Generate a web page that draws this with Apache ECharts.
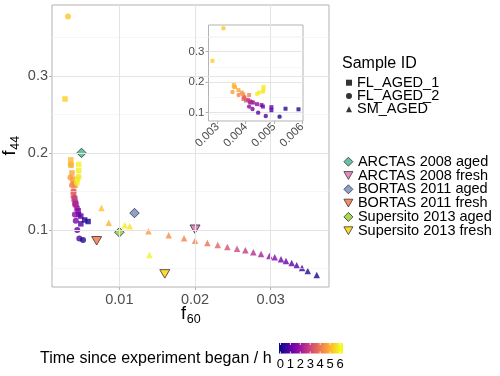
<!DOCTYPE html>
<html><head><meta charset="utf-8">
<script src="https://cdn.jsdelivr.net/npm/echarts@6/dist/echarts.min.js"></script>
<style>html,body{margin:0;padding:0;background:#fff}#c{width:500px;height:376px}</style>
</head><body><div id="c"></div>
<script>
// ---- data ----
const sampleNames = ['FL_AGED_1', 'FL_AGED_2', 'SM_AGED'];
const sqF60 = [0.00282, 0.00358, 0.00362, 0.00374, 0.00386, 0.00391, 0.00412, 0.00395, 0.00392, 0.00401, 0.00415, 0.00420, 0.00426, 0.00440, 0.00456, 0.00461, 0.00491, 0.00491, 0.00541, 0.00587, 0.00463, 0.00463];
const sqF44 = [0.270, 0.191, 0.184, 0.174, 0.166, 0.160, 0.158, 0.150, 0.145, 0.140, 0.137, 0.135, 0.133, 0.128, 0.125, 0.120, 0.118, 0.108, 0.113, 0.111, 0.185, 0.177];
const sqT   = [5.4, 5.1, 5.0, 4.8, 4.6, 4.4, 4.2, 3.9, 3.6, 3.3, 2.8, 2.4, 2.0, 1.8, 1.6, 1.3, 1.0, 0.8, 0.3, 0.1, 5.9, 5.8];
const ciF60 = [0.00321, 0.00358, 0.00353, 0.00375, 0.00395, 0.00409, 0.00415, 0.00412, 0.00424, 0.00444, 0.00471, 0.00520, 0.00440, 0.00447, 0.00461];
const ciF44 = [0.377, 0.185, 0.168, 0.158, 0.150, 0.142, 0.133, 0.120, 0.112, 0.100, 0.089, 0.087, 0.161, 0.166, 0.169];
const ciT   = [5.3, 5.0, 4.6, 4.2, 3.6, 2.8, 2.4, 1.7, 1.4, 1.1, 0.8, 0.2, 5.9, 5.8, 5.7];
const trF60 = [0.00763, 0.0086, 0.0107, 0.01137, 0.01384, 0.01397, 0.01652, 0.01855, 0.0200, 0.02163, 0.0230, 0.02427, 0.02555, 0.02665, 0.0277, 0.02872, 0.02982, 0.03053, 0.03136, 0.03202, 0.03277, 0.03343, 0.03414, 0.03489, 0.03608];
const trF44 = [0.1286, 0.1095, 0.106, 0.105, 0.0983, 0.0675, 0.0931, 0.0892, 0.0861, 0.0831, 0.0805, 0.0779, 0.0757, 0.0736, 0.071, 0.0688, 0.0662, 0.0645, 0.0619, 0.0597, 0.0571, 0.0541, 0.0506, 0.0468, 0.0416];
const trT   = [5.2, 5.0, 5.8, 5.7, 4.6, 5.9, 4.4, 4.2, 4.1, 3.9, 3.6, 3.2, 3.0, 2.7, 2.4, 2.2, 1.8, 1.6, 1.3, 1.1, 0.9, 0.7, 0.5, 0.3, 0.1];

const refNames  = ['ARCTAS 2008 aged', 'ARCTAS 2008 fresh', 'BORTAS 2011 aged', 'BORTAS 2011 fresh', 'Supersito 2013 aged', 'Supersito 2013 fresh'];
const refF60    = [0.005, 0.020, 0.012, 0.007, 0.010, 0.016];
const refF44    = [0.200, 0.101, 0.122, 0.086, 0.097, 0.043];
const refColors = ['#66c2a5', '#e78ac3', '#8da0cb', '#fc8d62', '#a6d854', '#ffd92f'];
const refShape  = ['aged', 'fresh', 'aged', 'fresh', 'aged', 'fresh'];

const dashF60 = 0.003;
const xMainTicks = [0.01, 0.02, 0.03];
const xMainMinor = [0.005, 0.015, 0.025, 0.035];
const yMainTicks = [0.1, 0.2, 0.3];
const yMainMinor = [0.05, 0.15, 0.25, 0.35];
const xInsetTicks = [0.003, 0.004, 0.005, 0.006];
const xInsetMinor = [0.0035, 0.0045, 0.0055];
const yInsetTicks = [0.1, 0.2, 0.3];
const yInsetMinor = [0.15, 0.25, 0.35];
const cbTicks = [0, 1, 2, 3, 4, 5, 6];
const timeMin = 0, timeMax = 6;

const plasma = ['#0d0887','#41049d','#6a00a8','#8f0da4','#b12a90','#cc4778','#e16462','#f2844b','#fca636','#fcce25','#f0f921'];

// ---- build ----
const FONT = 'Liberation Sans, Arial, sans-serif';
const zip = (a, b, c) => a.map((v, i) => [v, b[i], c[i]]);
const fmt = v => String(Math.round(v * 1e6) / 1e6);
const DOWN_TRI = 'path://M0,0L10,0L5,8.66Z';

function gridLines(xi, major, minor, ymajor, yminor, z) {
  const maj = {color: '#e4e4e4', width: 1, type: 'solid'};
  const mnr = {color: '#f2f2f2', width: 0.6, type: 'solid'};
  const d = [];
  minor.forEach(v => d.push({xAxis: v, lineStyle: mnr}));
  yminor.forEach(v => d.push({yAxis: v, lineStyle: mnr}));
  major.forEach(v => d.push({xAxis: v, lineStyle: maj}));
  ymajor.forEach(v => d.push({yAxis: v, lineStyle: maj}));
  d.push({xAxis: dashF60, lineStyle: {color: '#333', width: 1, type: [4, 3]}});
  return {
    type: 'line', xAxisIndex: xi, yAxisIndex: xi, data: [], z: z, silent: true,
    markLine: {silent: true, symbol: ['none', 'none'], label: {show: false}, animation: false, data: d}
  };
}

function axisX(gi, min, max, ticks, fs, rot) {
  return {
    type: 'value', gridIndex: gi, min: min, max: max, splitLine: {show: false},
    axisLine: {show: false},
    axisTick: {show: true, length: 3, lineStyle: {color: '#b3b3b3'}, customValues: ticks},
    axisLabel: {customValues: ticks, formatter: fmt, fontSize: fs, color: '#4d4d4d', margin: rot ? 4 : 5, rotate: rot || 0, fontFamily: FONT}
  };
}
function axisY(gi, min, max, ticks, fs) {
  return {
    type: 'value', gridIndex: gi, min: min, max: max, splitLine: {show: false},
    axisLine: {show: false},
    axisTick: {show: true, length: 3, lineStyle: {color: '#b3b3b3'}, customValues: ticks},
    axisLabel: {customValues: ticks, formatter: fmt, fontSize: fs, color: '#4d4d4d', margin: 4, fontFamily: FONT}
  };
}

const series = [];
series.push(gridLines(0, xMainTicks, xMainMinor, yMainTicks, yMainMinor, 1));
const sampleSym = ['rect', 'circle', 'triangle'];
const sampleData = [zip(sqF60, sqF44, sqT), zip(ciF60, ciF44, ciT), zip(trF60, trF44, trT)];
const mainSizes = [5.5, 6, 6.5];
sampleNames.forEach((n, i) => series.push({
  type: 'scatter', name: n, xAxisIndex: 0, yAxisIndex: 0, symbol: sampleSym[i], symbolSize: mainSizes[i],
  data: sampleData[i], z: 3
}));
refNames.forEach((n, i) => series.push({
  type: 'scatter', name: n, xAxisIndex: 0, yAxisIndex: 0,
  symbol: refShape[i] === 'aged' ? 'diamond' : DOWN_TRI,
  symbolSize: refShape[i] === 'aged' ? 9.5 : [10, 8.5],
  itemStyle: {color: refColors[i], borderColor: '#333', borderWidth: 0.8, opacity: 1},
  data: [[refF60[i], refF44[i]]], z: 4
}));
const insetLineIdx = series.length;
series.push(gridLines(1, xInsetTicks, xInsetMinor, yInsetTicks, yInsetMinor, 6));
const insetSizes = [4, 4.4];
[0, 1].forEach(i => series.push({
  type: 'scatter', name: sampleNames[i], xAxisIndex: 1, yAxisIndex: 1, symbol: sampleSym[i], symbolSize: insetSizes[i],
  data: sampleData[i], z: 7, clip: true
}));
const sampleIdx = [1, 2, 3, insetLineIdx + 1, insetLineIdx + 2];

// colorbar
const cbX = 279, cbY = 343, cbW = 64, cbH = 10.5, cbLo = -0.15, cbHi = 6.3;
const cbPos = t => cbX + (t - cbLo) / (cbHi - cbLo) * cbW;
const stops = [{offset: 0, color: plasma[0]}];
plasma.forEach((c, i) => {
  const t = timeMin + (timeMax - timeMin) * i / (plasma.length - 1);
  stops.push({offset: Math.min(1, Math.max(0, (t - cbLo) / (cbHi - cbLo))), color: c});
});
stops.push({offset: 1, color: plasma[plasma.length - 1]});
const graphics = [
  {type: 'text', left: 342, top: 56, style: {text: 'Sample ID', fontSize: 16, fill: '#000', fontFamily: FONT}},
  {type: 'text', x: 40, y: 359, style: {text: 'Time since experiment began / h', fontSize: 16, fill: '#000', fontFamily: FONT, verticalAlign: 'middle'}},
  {type: 'rect', shape: {x: cbX, y: cbY, width: cbW, height: cbH}, style: {fill: new echarts.graphic.LinearGradient(0, 0, 1, 0, stops)}},
  // axis titles
  {type: 'group', x: 181, y: 323.5, children: [
    {type: 'text', x: 0, y: 0, style: {text: 'f', fontSize: 18, fill: '#000', fontFamily: FONT, verticalAlign: 'bottom'}},
    {type: 'text', x: 5.8, y: 2.5, style: {text: '60', fontSize: 12.5, fill: '#000', fontFamily: FONT, verticalAlign: 'bottom'}}
  ]},
  {type: 'group', x: 19.5, y: 155.5, rotation: Math.PI / 2, children: [
    {type: 'text', x: 0, y: 0, style: {text: 'f', fontSize: 18, fill: '#000', fontFamily: FONT, verticalAlign: 'bottom'}},
    {type: 'text', x: 5.8, y: 2.5, style: {text: '44', fontSize: 12.5, fill: '#000', fontFamily: FONT, verticalAlign: 'bottom'}}
  ]}
];
cbTicks.forEach(t => {
  const x = cbPos(t);
  graphics.push({type: 'text', x: x, y: 364, style: {text: String(t), fontSize: 13, fill: '#000', fontFamily: FONT, align: 'center', verticalAlign: 'middle'}});
  graphics.push({type: 'line', shape: {x1: x, y1: cbY, x2: x, y2: cbY + 2}, style: {stroke: '#fff', lineWidth: 0.8}});
  graphics.push({type: 'line', shape: {x1: x, y1: cbY + cbH - 2, x2: x, y2: cbY + cbH}, style: {stroke: '#fff', lineWidth: 0.8}});
});

const option = {
  animation: false,
  backgroundColor: '#fff',
  textStyle: {fontFamily: FONT},
  grid: [
    {left: 52, top: 5, right: 171, bottom: 89, show: true, borderColor: '#b3b3b3', borderWidth: 1, backgroundColor: 'transparent', z: 0},
    {left: 208.5, top: 25, right: 197, bottom: 255, show: true, borderColor: '#b3b3b3', borderWidth: 1, backgroundColor: '#fff', z: 5}
  ],
  xAxis: [axisX(0, 0.0011, 0.0377, xMainTicks, 14.5), Object.assign(axisX(1, 0.00268, 0.00603, xInsetTicks, 11.5, 45), {z: 6})],
  yAxis: [axisY(0, 0.026, 0.392, yMainTicks, 14.5), Object.assign(axisY(1, 0.0727, 0.3875, yInsetTicks, 11.5), {z: 6})],
  visualMap: {type: 'continuous', show: false, min: timeMin, max: timeMax, dimension: 2, seriesIndex: sampleIdx, inRange: {color: plasma}},
  legend: [
    {orient: 'vertical', left: 346, top: 75.2, padding: 0, itemWidth: 6, itemHeight: 6, itemGap: -1.7, selectedMode: false,
     textStyle: {fontSize: 14.5, color: '#000', fontFamily: FONT},
     data: [
       {name: 'FL_AGED_1', icon: 'rect', itemStyle: {color: '#000', borderWidth: 0}},
       {name: 'FL_AGED_2', icon: 'circle', itemStyle: {color: '#000', borderWidth: 0}},
       {name: 'SM_AGED', icon: 'triangle', itemStyle: {color: '#000', borderWidth: 0}}
     ]},
    {orient: 'vertical', left: 343.5, top: 154.2, padding: 0, itemWidth: 9, itemHeight: 9, itemGap: -1.2, selectedMode: false, symbolRotate: 0,
     textStyle: {fontSize: 14.5, color: '#000', fontFamily: FONT},
     data: refNames.map((n, i) => ({name: n, icon: refShape[i] === 'aged' ? 'diamond' : DOWN_TRI,
       itemStyle: {color: refColors[i], borderColor: '#333', borderWidth: 0.8}}))}
  ],
  graphic: graphics,
  series: series
};
echarts.init(document.getElementById('c'), null, {renderer: 'canvas'}).setOption(option);
</script></body></html>
